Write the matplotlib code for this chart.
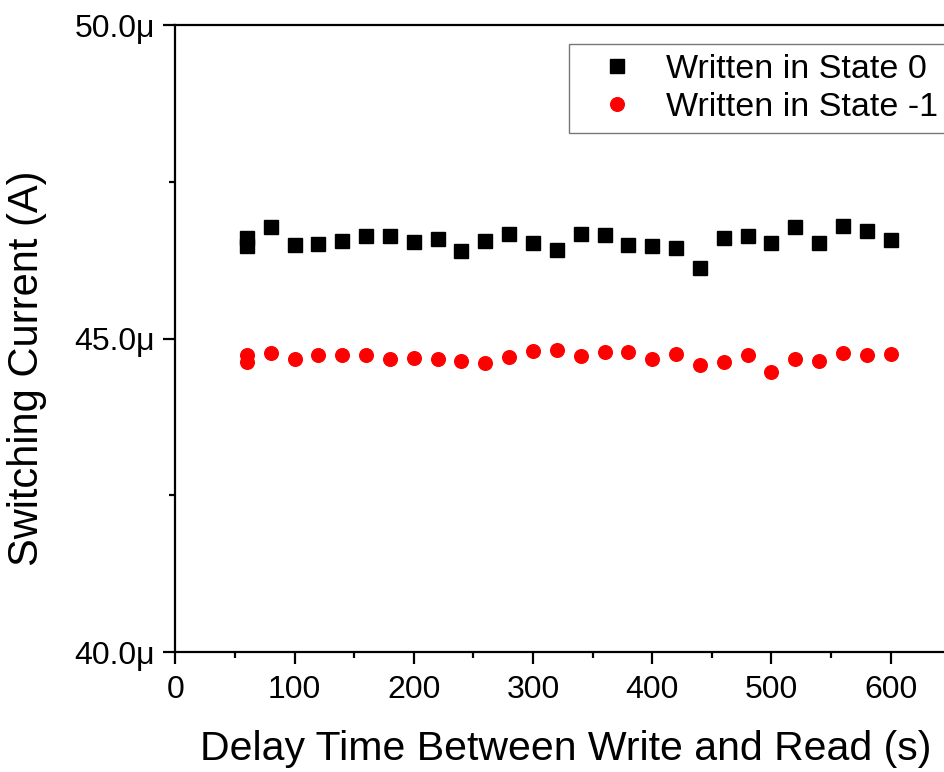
import numpy as np
import matplotlib
matplotlib.use("Agg")
from matplotlib import pyplot as plt
from matplotlib.ticker import FixedLocator, FuncFormatter

plt.rcParams["font.family"] = ["Liberation Sans", "DejaVu Sans"]

# delay times (s); the first delay has two readings per state
delay = [60, 60, 80, 100, 120, 140, 160, 180, 200, 220, 240, 260, 280, 300, 320,
         340, 360, 380, 400, 420, 440, 460, 480, 500, 520, 540, 560, 580, 600]

# switching current in micro-amps
state0 = [46.60, 46.48, 46.78, 46.49, 46.50, 46.55, 46.64, 46.63, 46.54, 46.58,
          46.39, 46.55, 46.67, 46.52, 46.41, 46.67, 46.65, 46.49, 46.48, 46.44,
          46.12, 46.61, 46.64, 46.52, 46.78, 46.53, 46.79, 46.71, 46.57]
state_m1 = [44.74, 44.63, 44.77, 44.67, 44.74, 44.74, 44.74, 44.68, 44.69, 44.67,
            44.64, 44.61, 44.71, 44.80, 44.82, 44.72, 44.78, 44.78, 44.68, 44.75,
            44.57, 44.63, 44.74, 44.47, 44.67, 44.64, 44.77, 44.74, 44.76]

labels = ["Written in State 0", "Written in State -1"]

fig = plt.figure(figsize=(9.44, 7.72), dpi=100)
ax = fig.add_axes([0.1858, 0.1554, 0.8208, 0.8122])

ax.plot(delay, state0, linestyle="none", marker="s", ms=9.4, color="black",
        label=labels[0])
ax.plot(delay, state_m1, linestyle="none", marker="o", ms=9.8, color="red",
        label=labels[1])

ax.set_xlim(0, 650)
ax.set_ylim(40, 50)

ax.xaxis.set_major_locator(FixedLocator(np.arange(0, 601, 100)))
ax.xaxis.set_minor_locator(FixedLocator(np.arange(50, 651, 100)))
ax.yaxis.set_major_locator(FixedLocator([40, 45, 50]))
ax.yaxis.set_minor_locator(FixedLocator([42.5, 47.5]))
ax.yaxis.set_major_formatter(FuncFormatter(lambda v, p: f"{v:.1f}\u03bc"))

for s in ["left", "bottom", "top", "right"]:
    ax.spines[s].set_linewidth(1.6)

ax.tick_params(which="major", direction="out", length=8.5, width=1.6,
               labelsize=23, top=False, right=False)
ax.tick_params(which="minor", direction="out", length=4.5, width=1.6,
               top=False, right=False)
ax.tick_params(axis="x", pad=8)
ax.tick_params(axis="y", pad=6)

ax.set_xlabel("Delay Time Between Write and Read (s)", fontsize=29.5)
ax.set_ylabel("Switching Current (A)", fontsize=30)
ax.xaxis.set_label_coords(0.504, -0.125)
ax.yaxis.set_label_coords(-0.166, 0.453)

leg = ax.legend(loc="upper left", bbox_to_anchor=(569 / 944, 1 - 44 / 772),
                bbox_transform=fig.transFigure, borderaxespad=0, fontsize=24.5,
                fancybox=False, frameon=True, handlelength=2.2,
                handletextpad=0.35, labelspacing=0.2, borderpad=0.3)
leg.get_frame().set_edgecolor("#555555")
leg.get_frame().set_linewidth(1.0)

fig.savefig("out.png", dpi=100)
